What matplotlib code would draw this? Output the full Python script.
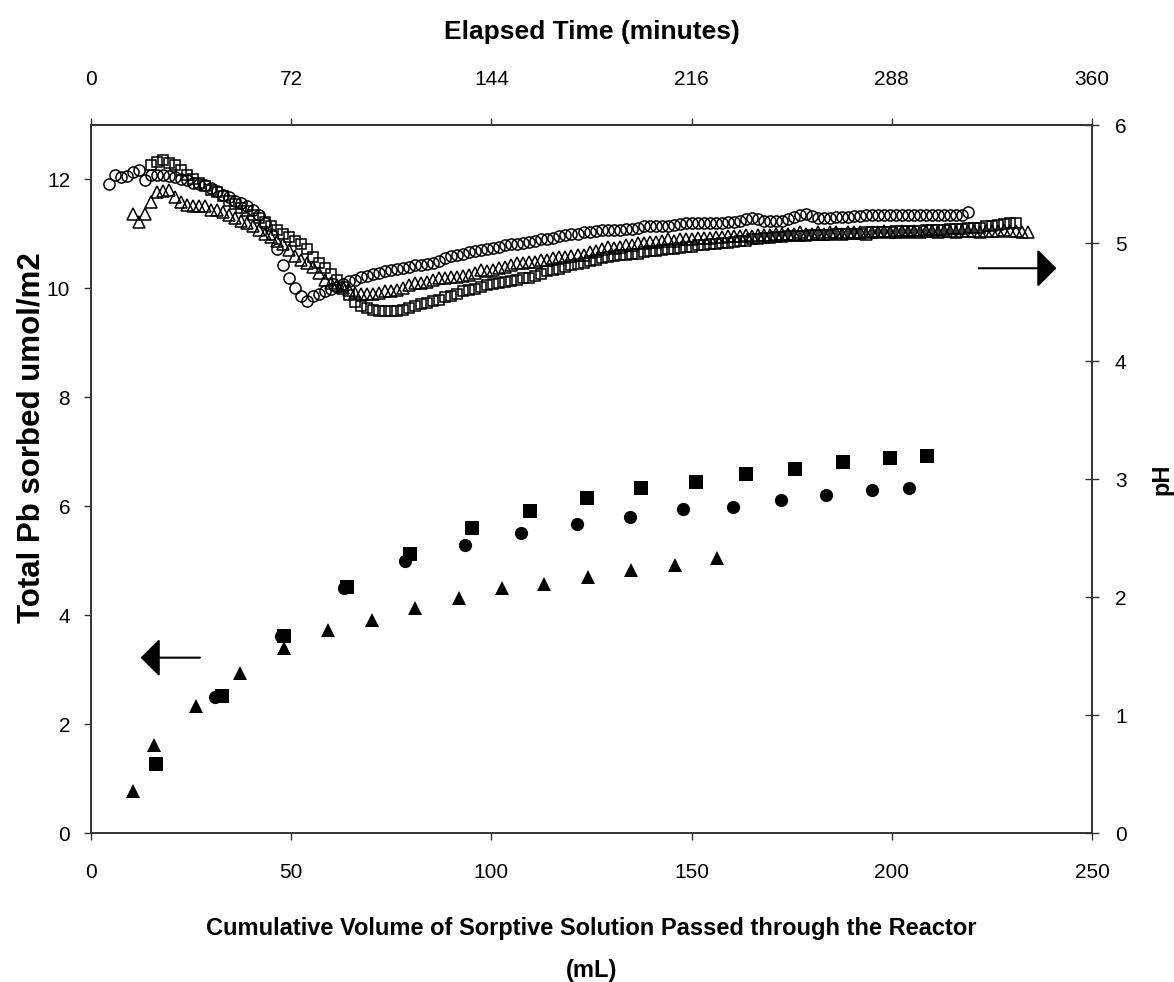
import matplotlib.pyplot as plt

plt.rcParams['font.family'] = ['Liberation Sans', 'DejaVu Sans']

# filled symbols: total Pb sorbed (left axis), read per point
pb_circle_vol = [31.0, 47.5, 63.3, 78.3, 93.3, 107.3, 121.4, 134.7, 147.9, 160.3, 172.2, 183.5, 195.0, 204.3]
pb_circle = [2.50, 3.62, 4.49, 5.00, 5.29, 5.51, 5.68, 5.81, 5.95, 5.99, 6.12, 6.21, 6.30, 6.34]

pb_square_vol = [16.3, 32.8, 48.2, 63.9, 79.6, 95.1, 109.7, 123.8, 137.3, 151.0, 163.7, 175.7, 187.7, 199.6, 208.7]
pb_square = [1.27, 2.52, 3.62, 4.52, 5.12, 5.60, 5.91, 6.16, 6.33, 6.45, 6.59, 6.69, 6.81, 6.89, 6.93]

pb_tri_vol = [10.4, 15.8, 26.3, 37.3, 48.3, 59.3, 70.3, 81.0, 91.9, 102.6, 113.2, 124.2, 134.8, 145.8, 156.3]
pb_tri = [0.78, 1.61, 2.34, 2.94, 3.39, 3.72, 3.92, 4.14, 4.32, 4.49, 4.58, 4.71, 4.83, 4.92, 5.05]

# open symbols: pH (right axis), sampled on a common volume grid
sample_vol = [
    4.5, 6.0, 7.5, 9.0, 10.5, 12.0, 13.5, 15.0, 16.5, 18.0, 19.5, 21.0, 22.5, 24.0,
    25.5, 27.0, 28.5, 30.0, 31.5, 33.0, 34.5, 36.0, 37.5, 39.0, 40.5, 42.0, 43.5, 45.0,
    46.5, 48.0, 49.5, 51.0, 52.5, 54.0, 55.5, 57.0, 58.5, 60.0, 61.5, 63.0, 64.5, 66.0,
    67.5, 69.0, 70.5, 72.0, 73.5, 75.0, 76.5, 78.0, 79.5, 81.0, 82.5, 84.0, 85.5, 87.0,
    88.5, 90.0, 91.5, 93.0, 94.5, 96.0, 97.5, 99.0, 100.5, 102.0, 103.5, 105.0, 106.5, 108.0,
    109.5, 111.0, 112.5, 114.0, 115.5, 117.0, 118.5, 120.0, 121.5, 123.0, 124.5, 126.0, 127.5, 129.0,
    130.5, 132.0, 133.5, 135.0, 136.5, 138.0, 139.5, 141.0, 142.5, 144.0, 145.5, 147.0, 148.5, 150.0,
    151.5, 153.0, 154.5, 156.0, 157.5, 159.0, 160.5, 162.0, 163.5, 165.0, 166.5, 168.0, 169.5, 171.0,
    172.5, 174.0, 175.5, 177.0, 178.5, 180.0, 181.5, 183.0, 184.5, 186.0, 187.5, 189.0, 190.5, 192.0,
    193.5, 195.0, 196.5, 198.0, 199.5, 201.0, 202.5, 204.0, 205.5, 207.0, 208.5, 210.0, 211.5, 213.0,
    214.5, 216.0, 217.5, 219.0, 220.5, 222.0, 223.5, 225.0, 226.5, 228.0, 229.5, 231.0, 232.5, 234.0,
]

ph_circle = [
    5.50, 5.58, 5.56, 5.57, 5.60, 5.62, 5.53, 5.58, 5.58, 5.58,
    5.57, 5.56, 5.54, 5.53, 5.51, 5.50, 5.49, 5.47, 5.44, 5.41,
    5.39, 5.36, 5.34, 5.31, 5.28, 5.24, 5.17, 5.08, 4.95, 4.81,
    4.70, 4.62, 4.55, 4.51, 4.55, 4.57, 4.59, 4.61, 4.63, 4.65,
    4.68, 4.69, 4.71, 4.72, 4.74, 4.75, 4.76, 4.77, 4.78, 4.79,
    4.80, 4.81, 4.81, 4.82, 4.83, 4.85, 4.87, 4.89, 4.90, 4.91,
    4.92, 4.93, 4.94, 4.95, 4.96, 4.97, 4.98, 4.99, 4.99, 5.00,
    5.01, 5.02, 5.03, 5.03, 5.04, 5.06, 5.07, 5.08, 5.08, 5.09,
    5.09, 5.10, 5.11, 5.11, 5.11, 5.11, 5.12, 5.12, 5.13, 5.14,
    5.14, 5.14, 5.14, 5.14, 5.15, 5.16, 5.17, 5.17, 5.17, 5.17,
    5.17, 5.17, 5.17, 5.18, 5.18, 5.19, 5.20, 5.21, 5.20, 5.19,
    5.19, 5.19, 5.19, 5.20, 5.22, 5.24, 5.25, 5.23, 5.21, 5.21,
    5.21, 5.22, 5.22, 5.22, 5.23, 5.23, 5.24, 5.24, 5.24, 5.24,
    5.24, 5.24, 5.24, 5.24, 5.24, 5.24, 5.24, 5.24, 5.24, 5.24,
    5.24, 5.24, 5.24, 5.26,
]
circle_start = 0

ph_square = [
    5.66, 5.69, 5.70, 5.68, 5.66, 5.62, 5.58, 5.54, 5.51, 5.48,
    5.45, 5.43, 5.40, 5.36, 5.33, 5.30, 5.27, 5.24, 5.21, 5.18,
    5.14, 5.11, 5.08, 5.05, 5.02, 4.99, 4.95, 4.88, 4.83, 4.79,
    4.74, 4.69, 4.63, 4.56, 4.50, 4.47, 4.45, 4.43, 4.42, 4.42,
    4.42, 4.42, 4.43, 4.45, 4.47, 4.48, 4.49, 4.51, 4.52, 4.54,
    4.55, 4.57, 4.59, 4.60, 4.61, 4.63, 4.64, 4.65, 4.66, 4.67,
    4.68, 4.69, 4.70, 4.70, 4.72, 4.74, 4.76, 4.77, 4.78, 4.80,
    4.81, 4.82, 4.83, 4.85, 4.86, 4.87, 4.88, 4.89, 4.90, 4.90,
    4.91, 4.91, 4.92, 4.93, 4.93, 4.94, 4.95, 4.95, 4.96, 4.97,
    4.97, 4.98, 4.98, 4.99, 4.99, 5.00, 5.00, 5.01, 5.02, 5.02,
    5.03, 5.03, 5.04, 5.04, 5.05, 5.05, 5.06, 5.06, 5.06, 5.06,
    5.07, 5.07, 5.07, 5.07, 5.08, 5.08, 5.08, 5.08, 5.08, 5.09,
    5.09, 5.09, 5.09, 5.09, 5.10, 5.10, 5.10, 5.10, 5.10, 5.11,
    5.11, 5.11, 5.11, 5.12, 5.12, 5.12, 5.13, 5.13, 5.13, 5.14,
    5.14, 5.15, 5.16, 5.17, 5.17,
]
square_start = 7

ph_tri = [
    5.25, 5.18, 5.25, 5.35, 5.43, 5.44, 5.45, 5.39, 5.35, 5.32,
    5.31, 5.31, 5.31, 5.28, 5.28, 5.26, 5.24, 5.21, 5.19, 5.17,
    5.14, 5.11, 5.08, 5.05, 5.02, 4.99, 4.94, 4.89, 4.86, 4.83,
    4.80, 4.75, 4.69, 4.66, 4.64, 4.62, 4.60, 4.58, 4.57, 4.57,
    4.57, 4.58, 4.59, 4.59, 4.60, 4.62, 4.64, 4.66, 4.66, 4.67,
    4.69, 4.70, 4.70, 4.71, 4.71, 4.72, 4.73, 4.75, 4.77, 4.76,
    4.77, 4.79, 4.80, 4.81, 4.83, 4.83, 4.84, 4.84, 4.86, 4.86,
    4.87, 4.88, 4.88, 4.89, 4.90, 4.90, 4.92, 4.93, 4.95, 4.97,
    4.96, 4.97, 4.98, 4.98, 5.00, 5.00, 5.01, 5.01, 5.02, 5.03,
    5.02, 5.03, 5.03, 5.03, 5.04, 5.04, 5.04, 5.05, 5.05, 5.06,
    5.06, 5.06, 5.07, 5.06, 5.07, 5.07, 5.07, 5.08, 5.08, 5.08,
    5.08, 5.09, 5.08, 5.08, 5.09, 5.08, 5.09, 5.09, 5.08, 5.09,
    5.09, 5.09, 5.08, 5.09, 5.09, 5.10, 5.09, 5.09, 5.10, 5.09,
    5.10, 5.09, 5.10, 5.10, 5.09, 5.10, 5.10, 5.09, 5.10, 5.10,
    5.10, 5.09, 5.10, 5.10, 5.10, 5.11, 5.10, 5.10, 5.09, 5.09,
]
tri_start = 4


def vols(start, values):
    return sample_vol[start:start + len(values)]


fig = plt.figure(figsize=(11.74, 9.82), dpi=100)
ax = fig.add_axes([0.0775, 0.1517, 0.8527, 0.7210])
ax2 = ax.twinx()

# pH series, open symbols
ax2.plot(vols(circle_start, ph_circle), ph_circle, 'o', ms=8, mfc='none', mec='black', mew=1.1)
ax2.plot(vols(tri_start, ph_tri), ph_tri, '^', ms=8.5, mfc='none', mec='black', mew=1.1)
ax2.plot(vols(square_start, ph_square), ph_square, 's', ms=7.5, mfc='none', mec='black', mew=1.1)

# sorbed Pb, filled symbols
ax.plot(pb_tri_vol, pb_tri, '^', ms=10.5, color='black', mew=0)
ax.plot(pb_circle_vol, pb_circle, 'o', ms=9.5, color='black', mew=0)
ax.plot(pb_square_vol, pb_square, 's', ms=9.5, color='black', mew=0)

ax.set_xlim(0, 250)
ax.set_ylim(0, 13)
ax2.set_ylim(0, 6)
ax.set_xticks([0, 50, 100, 150, 200, 250])
ax.set_yticks([0, 2, 4, 6, 8, 10, 12])
ax2.set_yticks([0, 1, 2, 3, 4, 5, 6])

top = ax.secondary_xaxis('top', functions=(lambda v: v * 1.44, lambda t: t / 1.44))
top.set_xticks([0, 72, 144, 216, 288, 360])

for a in (ax, ax2):
    for s in a.spines.values():
        s.set_linewidth(1.2)
        s.set_color('#333333')
top.spines['top'].set_linewidth(1.2)
top.spines['top'].set_color('#333333')

ax.tick_params(axis='both', labelsize=15, direction='out', length=5, width=1, color='#333333')
ax.tick_params(axis='x', pad=16.5)
ax.tick_params(axis='y', pad=10)
ax2.tick_params(axis='y', labelsize=15, direction='inout', length=10, width=1, color='#333333', pad=11.5)
top.tick_params(axis='x', labelsize=15, direction='out', length=5, width=1, color='#333333', pad=21)

ax.set_xlabel('Cumulative Volume of Sorptive Solution Passed through the Reactor\n(mL)',
              fontsize=17, fontweight='bold', labelpad=25, linespacing=2.05)
ax.set_ylabel('Total Pb sorbed umol/m2', fontsize=22.5, fontweight='bold')
ax.yaxis.set_label_coords(-0.044, 0.559)
ax2.set_ylabel('pH', fontsize=17, fontweight='bold', labelpad=17)
top.set_xlabel('Elapsed Time (minutes)', fontsize=19, fontweight='bold', labelpad=22)

# direction arrows
ax.annotate('', xy=(11.7, 3.22), xytext=(27.9, 3.22),
            arrowprops=dict(arrowstyle='-|>,head_length=0.6,head_width=0.6',
                            mutation_scale=20, lw=1.5, color='black'))
ax.annotate('', xy=(241.8, 10.37), xytext=(221.0, 10.37),
            arrowprops=dict(arrowstyle='-|>,head_length=0.6,head_width=0.6',
                            mutation_scale=20, lw=1.5, color='black'))

fig.savefig('out.png', dpi=100)
